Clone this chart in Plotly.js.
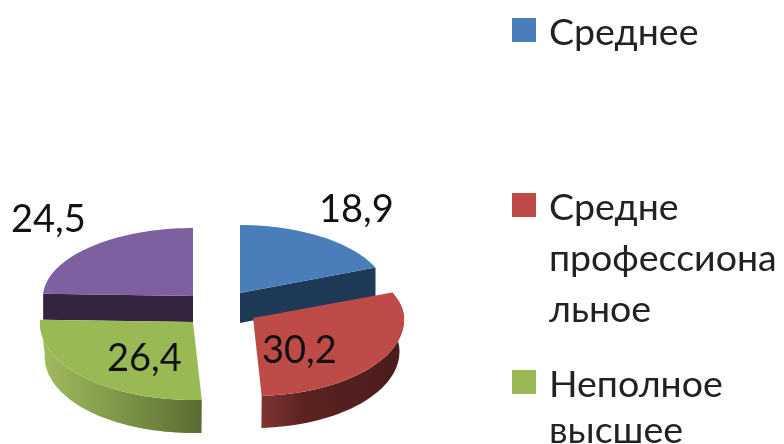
<!DOCTYPE html>
<html><head><meta charset="utf-8">
<script src="https://cdn.plot.ly/plotly-3.0.1.min.js"></script>
<style>html,body{margin:0;padding:0;background:#fff;overflow:hidden}#c{width:784px;height:444px;filter:blur(0.6px)}</style>
</head><body><div id="c"></div>
<script>
const categories = ['Среднее', 'Средне\nпрофессиона\nльное', 'Неполное\nвысшее', 'Высшее'];
const shares = [18.9, 30.2, 26.4, 24.5];
const dataLabels = ['18,9', '30,2', '26,4', '24,5'];
const topColors = ['#4a7ebb', '#be4b48', '#98b954', '#7d60a0'];
const wallStops = [
  [[0, '#1f3a57'], [1, '#1f3a57']],
  [[0, '#7f3432'], [0.3, '#5a2321'], [1, '#4a1c1b']],
  [[0, '#a0bc60'], [0.5, '#7d9648'], [1, '#5a6c33']],
  [[0, '#35243f'], [1, '#35243f']]
];
const centers = [[240, 293], [253, 318], [193, 322], [193, 296]];
const radiusAdjust = [-3, 1, 3, 0];
const depths = [30, 32, 33, 26];
const wallKinds = ['end', 'arc', 'arc', 'start'];
const labelPos = [[356, 207], [299, 348], [144, 356], [48, 217]];
const legendY = [[30], [205, 256, 307], [382, 428]];

// slice angles come from the values
const total = shares.reduce((a, b) => a + b, 0);
let acc = 0;
const ranges = shares.map(v => { const s = acc; acc += v; return [s / total * 2 * Math.PI, acc / total * 2 * Math.PI]; });

function rim(i, t) {
  const c = Math.cos(t), s = Math.sin(t);
  const rx = 150 + radiusAdjust[i] - 2.5 * c, ry = c >= 0 ? 68 : 78;
  return [centers[i][0] + rx * s, centers[i][1] - ry * c];
}
function arc(i, a, b) {
  const pts = [], n = 48;
  for (let k = 0; k <= n; k++) pts.push(rim(i, a + (b - a) * k / n));
  return pts;
}
function poly(pts, name, extra) {
  return Object.assign({
    type: 'scatter', mode: 'none', fill: 'toself', hoverinfo: 'name', name: name, showlegend: false,
    x: pts.map(p => p[0]).concat([pts[0][0]]), y: pts.map(p => p[1]).concat([pts[0][1]])
  }, extra);
}
const drawOrder = [3, 0, 2, 1];
const traces = [];
drawOrder.forEach(i => {
  const [a, b] = ranges[i], d = depths[i], ap = centers[i], name = categories[i].replace(/\n/g, '');
  let wall;
  if (wallKinds[i] === 'arc') {
    const up = arc(i, a, b);
    // the lower rim is slightly narrower: perspective of the tilted disc
    wall = up.concat(up.slice().reverse().map(p => [ap[0] + (p[0] - ap[0]) * 0.97, p[1] + d]));
  } else {
    const e = rim(i, wallKinds[i] === 'end' ? b : a);
    wall = [ap, e, [e[0], e[1] + d], [ap[0], ap[1] + d]];
  }
  traces.push(poly(wall, name, { fillgradient: { type: 'horizontal', colorscale: wallStops[i] } }));
  traces.push(poly([ap].concat(arc(i, a, b)), name, { fillcolor: topColors[i] }));
});

const font = 'Lato, "Noto Sans", sans-serif';
const annotations = [], shapes = [];
dataLabels.forEach((t, i) => annotations.push({
  x: labelPos[i][0], y: labelPos[i][1], xref: 'x', yref: 'y', text: t, showarrow: false,
  font: { family: font, size: 38, color: '#111' }
}));
legendY.forEach((ys, i) => {
  categories[i].split('\n').forEach((line, k) => annotations.push({
    x: 547, y: ys[k], xref: 'x', yref: 'y', xanchor: 'left', text: line, showarrow: false,
    font: { family: font, size: 37.5, color: '#222' }
  }));
  shapes.push({ type: 'rect', xref: 'x', yref: 'y', x0: 512, x1: 536, y0: ys[0] - 12, y1: ys[0] + 12,
    line: { width: 0 }, fillcolor: topColors[i] });
});

Plotly.newPlot('c', traces, {
  width: 784, height: 444, margin: { l: 0, r: 0, t: 0, b: 0 },
  paper_bgcolor: '#fff', plot_bgcolor: '#fff', showlegend: false,
  xaxis: { range: [0, 784], visible: false, fixedrange: true },
  yaxis: { range: [444, 0], visible: false, fixedrange: true },
  annotations, shapes
}, { displayModeBar: false, staticPlot: true });
</script></body></html>
